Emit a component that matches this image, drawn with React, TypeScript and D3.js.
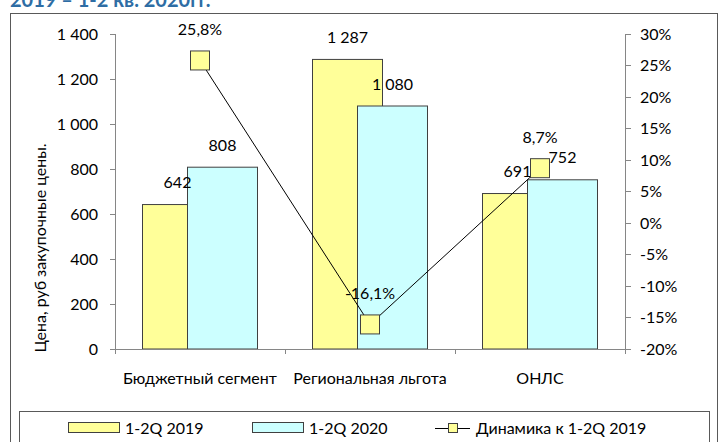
import React, {useEffect, useRef} from 'react'
import * as d3 from 'd3'

// chart data
const categories = ['Бюджетный сегмент', 'Региональная льгота', 'ОНЛС']
const price2019 = [642, 1287, 691]
const price2020 = [808, 1080, 752]
const dynamics = [25.8, -16.1, 8.7]
const leftTicks = [0, 200, 400, 600, 800, 1000, 1200, 1400]
const rightTicks = [-20, -15, -10, -5, 0, 5, 10, 15, 20, 25, 30]
const seriesNames = ['1-2Q 2019', '1-2Q 2020', 'Динамика к 1-2Q 2019']

const W = 719
const H = 442
const font = 'Lato, Carlito, sans-serif'
const yellow = '#FFFF99'
const cyan = '#CCFFFF'
const axisColor = '#868686'
const barStroke = '#404040'

const locale = d3.formatLocale({decimal: ',', thousands: '\u00a0', grouping: [3], currency: ['', ''], minus: '-'})
const fmtNum = locale.format(',d')
const fmtPct = locale.format('.1f')

const App = () => {
  const ref = useRef<SVGSVGElement>(null)

  useEffect(() => {
    const svg = d3.select(ref.current)
    svg.selectAll('*').remove()

    const plot = {left: 115, right: 625, top: 34, bottom: 349}

    const x = d3.scaleBand().domain(categories).range([plot.left, plot.right]).padding(0)
    const yL = d3.scaleLinear().domain([0, 1400]).range([plot.bottom, plot.top])
    const yR = d3.scaleLinear().domain([-20, 30]).range([plot.bottom, plot.top])

    const barW = 70
    const cx = (c: string) => (x(c) as number) + x.bandwidth() / 2

    // title (cut off at top)
    svg.append('text')
      .attr('x', 10).attr('y', 7)
      .attr('font-family', font).attr('font-size', 20).attr('font-weight', 700)
      .attr('fill', '#2E6DA4')
      .text('2019 – 1-2 кв. 2020гг.')

    // outer frame
    svg.append('rect')
      .attr('x', 10.5).attr('y', 13.5).attr('width', 707).attr('height', 440)
      .attr('fill', 'white').attr('stroke', '#595959')

    // bars 2019
    svg.append('g').selectAll('rect')
      .data(categories)
      .enter().append('rect')
      .attr('x', d => cx(d) - 57.5)
      .attr('y', (d, i) => yL(price2019[i]))
      .attr('width', barW)
      .attr('height', (d, i) => plot.bottom - yL(price2019[i]))
      .attr('fill', yellow).attr('stroke', barStroke)

    // bars 2020
    svg.append('g').selectAll('rect')
      .data(categories)
      .enter().append('rect')
      .attr('x', d => cx(d) - 12.5)
      .attr('y', (d, i) => yL(price2020[i]))
      .attr('width', barW)
      .attr('height', (d, i) => plot.bottom - yL(price2020[i]))
      .attr('fill', cyan).attr('stroke', barStroke)

    const labelStyle = (s: any) => s
      .attr('font-family', font).attr('font-size', 16).attr('fill', '#000')
      .attr('text-anchor', 'middle').attr('dy', '0.35em')

    svg.append('g').selectAll('text')
      .data(categories)
      .enter().append('text')
      .attr('x', d => cx(d) - 57.5 + barW / 2)
      .attr('y', (d, i) => yL(price2019[i]) - 22)
      .call(labelStyle)
      .text((d, i) => fmtNum(price2019[i]))

    svg.append('g').selectAll('text')
      .data(categories)
      .enter().append('text')
      .attr('x', d => cx(d) - 12.5 + barW / 2)
      .attr('y', (d, i) => yL(price2020[i]) - 22)
      .call(labelStyle)
      .text((d, i) => fmtNum(price2020[i]))

    // axes
    const axes = svg.append('g').attr('stroke', axisColor).attr('shape-rendering', 'crispEdges')
    axes.append('line').attr('x1', plot.left).attr('x2', plot.left).attr('y1', plot.top).attr('y2', plot.bottom)
    axes.append('line').attr('x1', plot.right).attr('x2', plot.right).attr('y1', plot.top).attr('y2', plot.bottom)
    axes.append('line').attr('x1', plot.left).attr('x2', plot.right).attr('y1', plot.bottom).attr('y2', plot.bottom)
    axes.selectAll('.lt').data(leftTicks).enter().append('line')
      .attr('x1', plot.left - 5).attr('x2', plot.left).attr('y1', d => yL(d)).attr('y2', d => yL(d))
    axes.selectAll('.rt').data(rightTicks).enter().append('line')
      .attr('x1', plot.right).attr('x2', plot.right + 6).attr('y1', d => yR(d)).attr('y2', d => yR(d))
    const bounds = [plot.left, ...categories.map(c => (x(c) as number) + x.bandwidth())]
    axes.selectAll('.bt').data(bounds).enter().append('line')
      .attr('x1', d => d).attr('x2', d => d).attr('y1', plot.bottom).attr('y2', plot.bottom + 5)

    svg.append('g').selectAll('text')
      .data(leftTicks)
      .enter().append('text')
      .attr('x', plot.left - 17).attr('y', d => yL(d)).attr('dy', '0.35em')
      .attr('text-anchor', 'end').attr('font-family', font).attr('font-size', 16)
      .text(d => fmtNum(d))

    svg.append('g').selectAll('text')
      .data(rightTicks)
      .enter().append('text')
      .attr('x', plot.right + 15).attr('y', d => yR(d)).attr('dy', '0.35em')
      .attr('font-family', font).attr('font-size', 16)
      .text(d => d + '%')

    svg.append('g').selectAll('text')
      .data(categories)
      .enter().append('text')
      .attr('x', d => cx(d)).attr('y', 378).attr('dy', '0.35em')
      .attr('text-anchor', 'middle').attr('font-family', font).attr('font-size', 16)
      .text(d => d)

    svg.append('text')
      .attr('transform', 'translate(40,248) rotate(-90)')
      .attr('dy', '0.35em')
      .attr('text-anchor', 'middle').attr('font-family', font).attr('font-size', 16)
      .text('Цена, руб закупочные цены.')

    // dynamics line + markers
    const line = d3.line<number>()
      .x((d, i) => cx(categories[i]))
      .y(d => yR(d))
    svg.append('path')
      .datum(dynamics)
      .attr('d', line)
      .attr('fill', 'none').attr('stroke', '#000').attr('stroke-width', 1)

    const ms = 19
    svg.append('g').selectAll('rect')
      .data(dynamics)
      .enter().append('rect')
      .attr('x', (d, i) => cx(categories[i]) - ms / 2)
      .attr('y', d => yR(d) - ms / 2)
      .attr('width', ms).attr('height', ms)
      .attr('fill', yellow).attr('stroke', barStroke)

    svg.append('g').selectAll('text')
      .data(dynamics)
      .enter().append('text')
      .attr('x', (d, i) => cx(categories[i]))
      .attr('y', d => yR(d) - 31)
      .call(labelStyle)
      .text(d => fmtPct(d) + '%')

    // legend
    const lg = svg.append('g')
    lg.append('rect')
      .attr('x', 19.5).attr('y', 411.5).attr('width', 690).attr('height', 50)
      .attr('fill', 'white').attr('stroke', '#595959')
    const ly = 428
    const legendItems = [
      {x: 68, fill: yellow, name: seriesNames[0]},
      {x: 252, fill: cyan, name: seriesNames[1]},
    ]
    legendItems.forEach(it => {
      lg.append('rect').attr('x', it.x + 0.5).attr('y', ly - 5.5).attr('width', 51).attr('height', 10)
        .attr('fill', it.fill).attr('stroke', barStroke)
      lg.append('text').attr('x', it.x + 57).attr('y', ly).attr('dy', '0.35em')
        .attr('font-family', font).attr('font-size', 16).text(it.name)
    })
    lg.append('line').attr('x1', 435).attr('x2', 470).attr('y1', ly + 0.5).attr('y2', ly + 0.5).attr('stroke', '#000')
    lg.append('rect').attr('x', 448.5).attr('y', ly - 4.5).attr('width', 9).attr('height', 9)
      .attr('fill', yellow).attr('stroke', barStroke)
    lg.append('text').attr('x', 476).attr('y', ly).attr('dy', '0.35em')
      .attr('font-family', font).attr('font-size', 16).text(seriesNames[2])
  }, [])

  return (
    <svg ref={ref} width={W} height={H}
      style={{position: 'absolute', left: 0, top: 0, background: 'white', display: 'block'}} />
  )
}

export default App
